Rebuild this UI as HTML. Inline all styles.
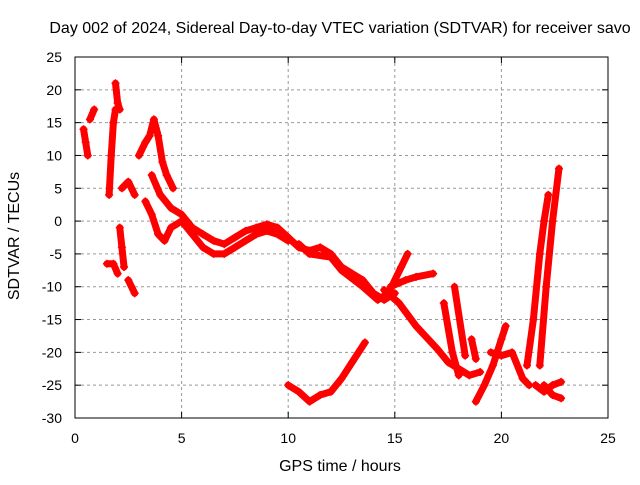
<!DOCTYPE html>
<html><head><meta charset="utf-8"><style>
body{margin:0;background:#fff}
svg text{font-family:"Liberation Sans",sans-serif;font-size:14px;fill:#000}
svg text.big{font-size:16px}
</style></head><body>
<svg id="c" width="640" height="480">
<rect width="640" height="480" fill="#fff"/>
<g id="grid"></g><g id="marks"></g>
<rect x="75" y="57" width="533" height="361" fill="none" stroke="#000"/>
<text class="big" x="340" y="33" text-anchor="middle">Day 002 of 2024, Sidereal Day-to-day VTEC variation (SDTVAR) for receiver savo</text>
<text class="big" x="340" y="471" text-anchor="middle">GPS time / hours</text>
<text class="big" transform="translate(19,236) rotate(-90)" text-anchor="middle">SDTVAR / TECUs</text>
<g id="ticks"></g>
</svg>
<script>
const xTicks=[0,5,10,15,20,25];
const yTicks=[25,20,15,10,5,0,-5,-10,-15,-20,-25,-30];
const track1=[[0.4,14],[0.5,12],[0.6,10]];
const track2=[[0.7,15.5],[0.9,17]];
const track3=[[1.6,4],[1.7,10],[1.8,15],[1.9,17]];
const track4=[[1.9,21],[2.0,18],[2.1,17]];
const track5=[[1.5,-6.5],[1.8,-6.5],[2.0,-8]];
const track6=[[2.1,-1],[2.2,-4],[2.3,-7]];
const track7=[[2.5,-9],[2.8,-11]];
const track8=[[2.2,5],[2.5,6],[2.8,4]];
const track9=[[3.0,10],[3.3,12],[3.5,13],[3.7,15.5],[3.9,13],[4.1,9],[4.3,7],[4.6,5]];
const track10=[[3.3,3],[3.6,1],[3.9,-2],[4.2,-3],[4.5,-1],[5,0],[5.5,-2],[6,-4],[6.5,-5],[7,-5],[7.5,-4],[8,-3],[8.5,-2],[9,-1.5],[9.5,-2],[10,-3]];
const track11=[[3.6,7],[4,4],[4.5,2],[5,1],[5.5,-1],[6,-2],[6.5,-3],[7,-3.5],[7.5,-2.5],[8,-1.5],[8.5,-1],[9,-0.5],[9.5,-1],[10,-2.5],[10.5,-4],[11,-4.5],[11.5,-4],[12,-5],[12.5,-7],[13,-8],[13.5,-9],[14,-11],[14.5,-12],[15,-11]];
const track12=[[10.5,-3.5],[11,-5],[12,-5.5],[12.5,-7.5],[13.5,-10],[14.2,-12],[14.7,-11],[15.3,-7],[15.6,-5]];
const track13=[[14.8,-10],[15.5,-9],[16,-8.5],[16.8,-8]];
const track14=[[14.5,-10.5],[15.2,-12.5],[16,-16],[17,-19.5],[17.5,-21.5],[18.5,-23.5],[19,-23]];
const track15=[[10,-25],[10.5,-26],[11,-27.5],[11.5,-26.5],[12,-26],[12.5,-24],[13,-21.5],[13.6,-18.5]];
const track16=[[17.3,-12.5],[17.7,-20],[18,-23.5]];
const track17=[[17.8,-10],[18.3,-20.5]];
const track18=[[18.6,-18],[18.8,-21]];
const track19=[[18.8,-27.5],[19.2,-25],[19.6,-22],[20,-18],[20.2,-16]];
const track20=[[19.5,-20],[20,-20.5],[20.5,-20],[21,-24],[21.3,-25]];
const track21=[[21.2,-22],[21.5,-15],[21.8,-5],[22,0],[22.2,4]];
const track22=[[21.8,-22],[22.1,-10],[22.4,0],[22.7,8]];
const track23=[[21.6,-25],[22,-26],[22.4,-25],[22.8,-24.5]];
const track24=[[22,-25],[22.4,-26.5],[22.8,-27]];
const tracks=[track1,track2,track3,track4,track5,track6,track7,track8,track9,track10,track11,track12,track13,track14,track15,track16,track17,track18,track19,track20,track21,track22,track23,track24];
const X=h=>75+h*533/25, Y=v=>57+(25-v)*361/55;
const NS='http://www.w3.org/2000/svg';
const grid=document.getElementById('grid'),ticks=document.getElementById('ticks'),marks=document.getElementById('marks');
function mk(tag,at,par){const e=document.createElementNS(NS,tag);for(const k in at)e.setAttribute(k,at[k]);par.appendChild(e);return e;}
xTicks.forEach(t=>{const x=X(t);
 if(t>0&&t<25){const g=mk('line',{x1:x,x2:x,y1:57,y2:418,stroke:'#999','stroke-dasharray':'3,3'},grid);
 
 }
 mk('line',{x1:x,x2:x,y1:418,y2:412,stroke:'#000'},ticks);mk('line',{x1:x,x2:x,y1:57,y2:63,stroke:'#000'},ticks);
 const l=mk('text',{x:x,y:443,'text-anchor':'middle'},ticks);l.textContent=t;
 
 });
yTicks.forEach(t=>{const y=Y(t);
 if(t<25&&t>-30){const g=mk('line',{x1:75,x2:608,y1:y,y2:y,stroke:'#999','stroke-dasharray':'3,3'},grid);
 
 }
 mk('line',{x1:75,x2:81,y1:y,y2:y,stroke:'#000'},ticks);mk('line',{x1:608,x2:602,y1:y,y2:y,stroke:'#000'},ticks);
 const l=mk('text',{x:62,y:y+5,'text-anchor':'end'},ticks);l.textContent=t;
 
 });
tracks.forEach((tr,i)=>{
 const g=mk('g',{},marks);
 
 
 if(tr.length>1)mk('polyline',{points:tr.map(p=>X(p[0])+','+Y(p[1])).join(' '),fill:'none',stroke:'#f00','stroke-width':7,'stroke-linejoin':'round','stroke-linecap':'round'},g);
 tr.forEach(p=>{const x=X(p[0]),y=Y(p[1]);
  const m=mk('path',{d:`M${x-4} ${y}H${x+4}M${x} ${y-4}V${y+4}`,stroke:'#f00','stroke-width':1.5},g);
  
  });
});
</script>
</body></html>
